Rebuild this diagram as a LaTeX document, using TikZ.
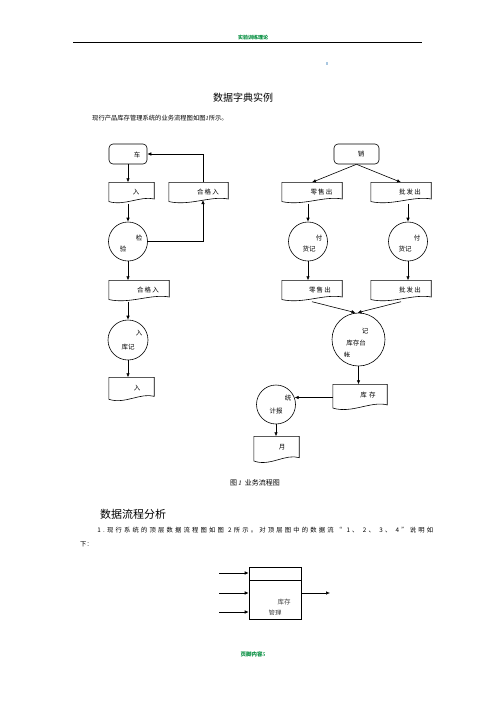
\documentclass[tikz,border=0pt]{standalone}
\usepackage{fontspec}
\setmainfont{Liberation Serif}
\newfontfamily\cjk{Noto Sans CJK SC}
\usetikzlibrary{arrows.meta,calc}
\definecolor{hdrgreen}{RGB}{0,140,60}
\definecolor{dotblue}{RGB}{170,200,225}
\newcommand\dg[1]{{\rmfamily\itshape #1}}
\def\spreadit#1{\ifx#1\relax\else#1\hfil\expandafter\spreadit\fi}
\newcommand{\docshape}[1]{\draw[ln] let \p1=(#1.north west), \p2=(#1.south east) in
  (\x1,\y1) -- (\x2,\y1) -- (\x2,{\y1+0.78*(\y2-\y1)})
  .. controls ({\x1+0.7*(\x2-\x1)},{\y1+0.62*(\y2-\y1)}) and ({\x1+0.35*(\x2-\x1)},{\y1+1.12*(\y2-\y1)})
  .. (\x1,{\y1+0.9*(\y2-\y1)}) -- cycle;}
\tikzset{
  ln/.style={line width=0.6pt, draw=black},
  arr/.style={ln, -{Latex[length=4pt,width=3.5pt]}},
  term/.style={ln, rounded corners=4pt, minimum width=#1, minimum height=20pt, inner sep=0pt},
  docb/.style={draw=none, inner sep=0pt},
  circ/.style={ln, circle, inner sep=0pt, minimum size=#1},
  lbl/.style={font=\cjk\fontsize{6.5}{7}\selectfont, inner sep=0pt},
  txt/.style={font=\cjk\fontsize{6.3}{8}\selectfont, inner sep=0pt},
}
\begin{document}
\begin{tikzpicture}[x=1pt,y=-1pt]
\useasboundingbox (0,0) rectangle (496,702);
% header
\node[font=\cjk\bfseries\fontsize{5}{6}\selectfont, text=hdrgreen, inner sep=0pt] (hdr) at (253,38) {实验训练理论};
\coordinate (hl1) at (73,42);
\coordinate (hl2) at (422,42);
\draw[line width=0.8pt] (hl1) -- (hl2);
\fill[dotblue] (326,61.5) rectangle (328,64.5);
% title and intro
\node[font=\cjk\fontsize{10}{12}\selectfont, inner sep=0pt] (title) at (243,98) {数据字典实例};
\node[txt, anchor=west] (intro) at (92,118) {现行产品库存管理系统的业务流程图如图\dg{1}所示。};

% ---- left column ----
\node[term=38pt] (che) at (128,154) {};
\node[docb, minimum width=45pt, minimum height=21pt] (ru1) at (131.5,193) {};
\node[docb, minimum width=59pt, minimum height=21pt] (hgr1) at (198.5,193) {};
\node[circ=39pt] (jy) at (128,241.5) {};
\node[docb, minimum width=60pt, minimum height=21pt] (hgr2) at (139,291) {};
\node[circ=40pt] (rkj) at (128,340) {};
\node[docb, minimum width=45pt, minimum height=24pt] (ru2) at (131.5,389.5) {};
\docshape{ru1}\docshape{hgr1}\docshape{hgr2}\docshape{ru2}

\node[lbl] (l1) at (137,155) {车};
\node[lbl] (l2) at (136,192) {入};
\node[lbl] (l3) at (208,192) {合\,格\,入};
\node[lbl] (l4) at (139,238) {检};
\node[lbl] (l5) at (123,249) {验};
\node[lbl] (l6) at (148,290) {合\,格\,入};
\node[lbl] (l7) at (139,333) {入};
\node[lbl] (l8) at (128,347) {库记};
\node[lbl] (l9) at (137,388) {入};

\coordinate (hgr1in) at (203,200);
\draw[arr] (che.south) -- (che.south |- ru1.north);
\draw[arr] (jy.north |- ru1.south) -- (jy.north);
\draw[arr] (jy.east) -| (hgr1in);
\draw[arr] (hgr1.north -| hgr1in) |- (che.east);
\draw[arr] (jy.south) -- (jy.south |- hgr2.north);
\draw[arr] (rkj.north |- hgr2.south) -- (rkj.north);
\draw[arr] (rkj.south) -- (rkj.south |- ru2.north);

% ---- right column ----
\node[term=45pt] (xiao) at (356.5,154) {};
\node[docb, minimum width=60pt, minimum height=21pt] (lsc1) at (312,193) {};
\node[docb, minimum width=60pt, minimum height=21pt] (pfc1) at (401,193) {};
\node[circ=39pt] (fh1) at (308,241.5) {};
\node[circ=39pt] (fh2) at (408,241.5) {};
\node[docb, minimum width=60pt, minimum height=21pt] (lsc2) at (312,291) {};
\node[docb, minimum width=60pt, minimum height=21pt] (pfc2) at (401,291) {};
\node[circ=53pt] (jl) at (358.5,339.5) {};
\node[docb, minimum width=54pt, minimum height=26pt] (kc) at (360,397.5) {};
\node[circ=39pt] (tj) at (276,404.5) {};
\node[docb, minimum width=45pt, minimum height=27pt] (yue) at (276.5,450) {};
\docshape{lsc1}\docshape{pfc1}\docshape{lsc2}\docshape{pfc2}\docshape{kc}\docshape{yue}

\node[lbl] (r1) at (361,154) {销};
\node[lbl] (r2) at (321.5,192) {零\,售\,出};
\node[lbl] (r3) at (410,192) {批\,发\,出};
\node[lbl] (r4) at (319,238) {付};
\node[lbl] (r5) at (309,249) {货记};
\node[lbl] (r6) at (417,238) {付};
\node[lbl] (r7) at (405,249) {货记};
\node[lbl] (r8) at (320,290) {零\,售\,出};
\node[lbl] (r9) at (410,290) {批\,发\,出};
\node[lbl] (r10) at (365,331) {记};
\node[lbl] (r11) at (356,343) {库存台};
\begin{scope}
  \clip (335,350) rectangle (365,356);
  \node[lbl] (r12) at (347,355) {帐};
\end{scope}
\node[lbl] (r13) at (368,395) {库\,\,存};
\node[lbl] (r14) at (288,398) {统};
\node[lbl] (r15) at (276,411) {计报};
\node[lbl] (r16) at (282,447) {月};

\draw[arr] (xiao.south) -- (lsc1.north);
\draw[arr] (xiao.south) -- (pfc1.north);
\draw[arr] (fh1.north |- lsc1.south) -- (fh1.north);
\draw[arr] (fh2.north |- pfc1.south) -- (fh2.north);
\draw[arr] (fh1.south) -- (fh1.south |- lsc2.north);
\draw[arr] (fh2.south) -- (fh2.south |- pfc2.north);
\draw[arr] (lsc2.south) -- ($(jl.north)+(-3,0)$);
\draw[arr] (pfc2.south) -- ($(jl.north)+(-1,0)$);
\draw[arr] (jl.south) -- (jl.south |- kc.north);
\draw[arr] (kc.west) -- (kc.west -| tj.20);
\draw[arr] (tj.south) -- (tj.south |- yue.north);

% caption and section
\node[font=\cjk\fontsize{7}{8}\selectfont, inner sep=0pt] (cap) at (255,483) {图\,\dg{1}\ \ 业务流程图};
\node[font=\cjk\fontsize{11}{13}\selectfont, inner sep=0pt, anchor=west] (sec) at (100,514) {数据流程分析};
\node[txt, anchor=west] (para1) at (95,530) {\hbox to 338pt{\spreadit \dg{1}.现行系统的顶层数据流程图如图\dg{2}所示。对顶层图中的数据流“\dg{1}、\dg{2}、\dg{3}、\dg{4}”说明如\relax\unskip}};
\node[txt, anchor=west] (para2) at (80,544) {下：};

% bottom DFD
\node[ln, draw, minimum width=52pt, minimum height=52pt, inner sep=0pt] (dfd) at (275,593) {};
\coordinate (dl) at (249,580);
\coordinate (dr) at (301,580);
\draw[ln] (dl) -- (dr);
\node[lbl, text=black!75] (b1) at (284,602) {库存};
\begin{scope}
  \clip (260,606) rectangle (290,614.5);
  \node[lbl, text=black!75] (b2) at (275,613) {管理};
\end{scope}
\coordinate (in1) at (219,573);
\coordinate (in2) at (219,593);
\coordinate (in3) at (219,612);
\coordinate (out1) at (330,593);
\draw[arr] (in1) -- (in1 -| dfd.west);
\draw[arr] (in2) -- (dfd.west);
\draw[arr] (in3) -- (in3 -| dfd.west);
\draw[arr] (dfd.east) -- (out1);

% footer
\node[font=\cjk\bfseries\fontsize{5.5}{6}\selectfont, text=hdrgreen, inner sep=0pt] (ftr) at (253,654) {页脚内容\dg{5}};
\end{tikzpicture}
\end{document}
